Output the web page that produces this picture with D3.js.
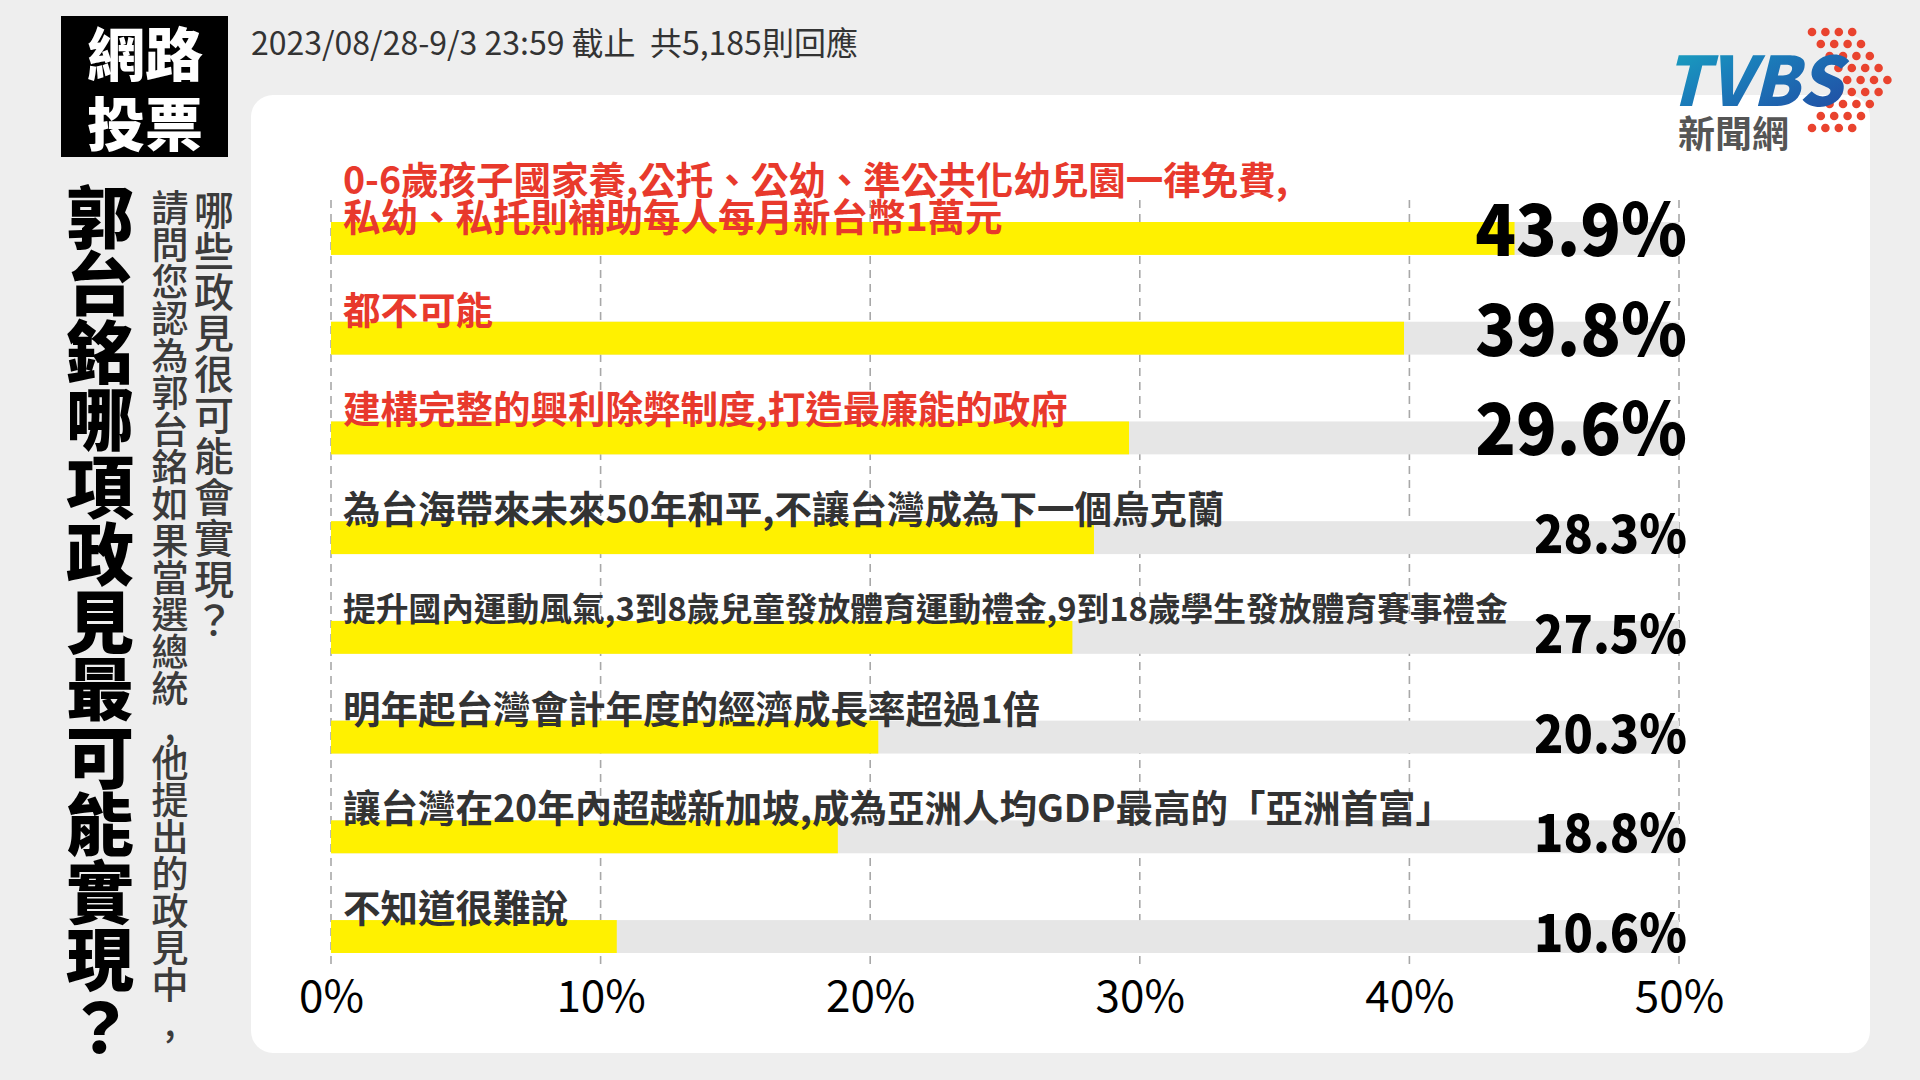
<!DOCTYPE html>
<html>
<head>
<meta charset="utf-8">
<script src="https://cdn.jsdelivr.net/npm/d3@7"></script>
<style>
  html, body { margin: 0; padding: 0; background: #eeeeee; }
  svg { display: block; }
  text { font-family: "Noto Sans CJK TC", "Noto Sans", sans-serif; }
</style>
</head>
<body>
<svg id="chart" width="1920" height="1080"></svg>
<script>
// ---------------- data ----------------
const categories = [
  "0-6歲孩子國家養,公托、公幼、準公共化幼兒園一律免費,\n私幼、私托則補助每人每月新台幣1萬元",
  "都不可能",
  "建構完整的興利除弊制度,打造最廉能的政府",
  "為台海帶來未來50年和平,不讓台灣成為下一個烏克蘭",
  "提升國內運動風氣,3到8歲兒童發放體育運動禮金,9到18歲學生發放體育賽事禮金",
  "明年起台灣會計年度的經濟成長率超過1倍",
  "讓台灣在20年內超越新加坡,成為亞洲人均GDP最高的「亞洲首富」",
  "不知道很難說"
];
const values = [43.9, 39.8, 29.6, 28.3, 27.5, 20.3, 18.8, 10.6];
const highlighted = [true, true, true, false, false, false, false, false];
const tickValues = [0, 10, 20, 30, 40, 50];
const boxTitle = ["網路", "投票"];
const subtitle = "2023/08/28-9/3 23:59 截止  共5,185則回應";
const mainTitle = "郭台銘哪項政見最可能實現？";
const questionLine1 = "請問您認為郭台銘如果當選總統,他提出的政見中,";
const questionLine2 = "哪些政見很可能會實現？";

// ---------------- layout ----------------
const svg = d3.select("#chart");
const FONT = '"Noto Sans CJK TC", "Noto Sans", sans-serif';

svg.append("rect").attr("width", 1920).attr("height", 1080).attr("fill", "#eeeeee");

// white card
svg.append("rect")
  .attr("x", 251).attr("y", 95).attr("width", 1619).attr("height", 958)
  .attr("rx", 22).attr("fill", "#ffffff");

// black box title
svg.append("rect").attr("x", 61).attr("y", 16).attr("width", 167).attr("height", 141).attr("fill", "#000");
svg.append("g").selectAll("text").data(boxTitle).join("text")
  .attr("x", 145).attr("y", (d, i) => 51 + i * 70)
  .attr("text-anchor", "middle").attr("dominant-baseline", "central")
  .attr("font-size", 58).attr("font-weight", 900).attr("fill", "#fff")
  .text(d => d);

// subtitle
svg.append("text").attr("x", 251).attr("y", 55)
  .attr("font-size", 32).attr("fill", "#333").attr("font-weight", 400)
  .style("white-space", "pre")
  .text(subtitle);

// vertical texts
function verticalText(str, cx, top, size, spacing, weight, fill) {
  svg.append("text")
    .attr("x", cx).attr("y", top)
    .style("writing-mode", "vertical-rl")
    .style("text-orientation", "upright")
    .attr("dominant-baseline", "central")
    .attr("font-size", size).attr("font-weight", weight).attr("fill", fill)
    .attr("letter-spacing", spacing)
    .text(str);
}
verticalText(mainTitle, 100, 183, 68, -0.5, 900, "#000");
verticalText(questionLine1, 170, 189, 37, 0, 500, "#3b3b3b");
verticalText(questionLine2, 214, 190, 40, 1, 500, "#3b3b3b");

// ---------------- chart ----------------
const x = d3.scaleLinear().domain([0, 50]).range([331, 1679]);
const y = d3.scaleBand().domain(categories).range([222, 953]).paddingInner(0.67).paddingOuter(0);

// grid lines
svg.append("g").selectAll("line").data(tickValues).join("line")
  .attr("x1", d => x(d)).attr("x2", d => x(d))
  .attr("y1", 200).attr("y2", 968)
  .attr("stroke", "#a8a8a8").attr("stroke-width", 1.6).attr("stroke-dasharray", "8,6");

const rows = svg.append("g").selectAll("g").data(categories).join("g");

// background bars
rows.append("rect")
  .attr("x", x(0)).attr("y", d => y(d))
  .attr("width", x(50) - x(0)).attr("height", y.bandwidth())
  .attr("fill", "#e6e6e6");

// value bars
rows.append("rect")
  .attr("x", x(0)).attr("y", d => y(d))
  .attr("width", (d, i) => x(values[i]) - x(0)).attr("height", y.bandwidth())
  .attr("fill", "#fff100");

// category labels
const LABEL_SIZE = 37.5, LABEL_MAX_W = 1165;
rows.append("text")
  .attr("font-size", LABEL_SIZE).attr("font-weight", 700)
  .attr("dominant-baseline", "central")
  .attr("fill", (d, i) => highlighted[i] ? "#e8392c" : "#333333")
  .each(function(d) {
    const lines = d.split("\n");
    const base = y(d) + (lines.length > 1 ? -8 : -15);
    const sel = d3.select(this);
    sel.selectAll("tspan").data(lines).join("tspan")
      .attr("x", 343)
      .attr("y", (l, j) => base - (lines.length - 1 - j) * 37)
      .text(l => l);
    let maxLen = 0;
    sel.selectAll("tspan").each(function() { maxLen = Math.max(maxLen, this.getComputedTextLength()); });
    if (maxLen > LABEL_MAX_W) sel.attr("font-size", LABEL_SIZE * LABEL_MAX_W / maxLen);
  });

// value labels
rows.append("text")
  .attr("x", x(50) + 8)
  .attr("y", (d, i) => y(d) + y.bandwidth() + (highlighted[i] ? 1 : -1))
  .attr("text-anchor", "end")
  .attr("font-size", (d, i) => highlighted[i] ? 72 : 52)
  .attr("font-weight", 900).attr("fill", "#000")
  .text((d, i) => values[i].toFixed(1) + "%")
  .each(function() {
    const len = this.getComputedTextLength();
    d3.select(this).attr("textLength", len * 0.93).attr("lengthAdjust", "spacingAndGlyphs");
  });

// x axis
const axis = d3.axisBottom(x).tickValues(tickValues).tickFormat(d => d + "%").tickSize(0).tickPadding(0);
const ax = svg.append("g").attr("transform", "translate(0,981)").call(axis);
ax.select(".domain").remove();
ax.selectAll("text").attr("font-size", 44).attr("font-family", FONT).attr("fill", "#000").attr("font-weight", 400);

// ---------------- logo ----------------
const logo = svg.append("g");
const dotRows = d3.range(9);
dotRows.forEach(r => {
  const shift = (4 - Math.abs(r - 4)) * 8.8;
  d3.range(4).forEach(c => {
    logo.append("circle")
      .attr("cx", 1812 + shift + c * 13.4)
      .attr("cy", 32 + r * 12)
      .attr("r", 4.3).attr("fill", "#e9432e");
  });
});
const defs = svg.append("defs");
const grad = defs.append("linearGradient").attr("id", "tvbsGrad")
  .attr("x1", "0").attr("y1", "0").attr("x2", "1").attr("y2", "1");
grad.append("stop").attr("offset", "0").attr("stop-color", "#1ab0c0");
grad.append("stop").attr("offset", "0.4").attr("stop-color", "#1a80bb");
grad.append("stop").attr("offset", "1").attr("stop-color", "#2344a0");
logo.append("text")
  .attr("x", 1664).attr("y", 106)
  .attr("font-size", 68).attr("font-weight", 900).attr("font-style", "italic")
  .attr("textLength", 178).attr("lengthAdjust", "spacingAndGlyphs")
  .attr("fill", "url(#tvbsGrad)")
  .attr("font-family", '"Open Sans", "Noto Sans", sans-serif')
  .text("TVBS");
logo.append("text")
  .attr("x", 1678).attr("y", 132)
  .attr("dominant-baseline", "central")
  .attr("font-size", 37).attr("font-weight", 700).attr("fill", "#555")
  .text("新聞網");
</script>
</body>
</html>
